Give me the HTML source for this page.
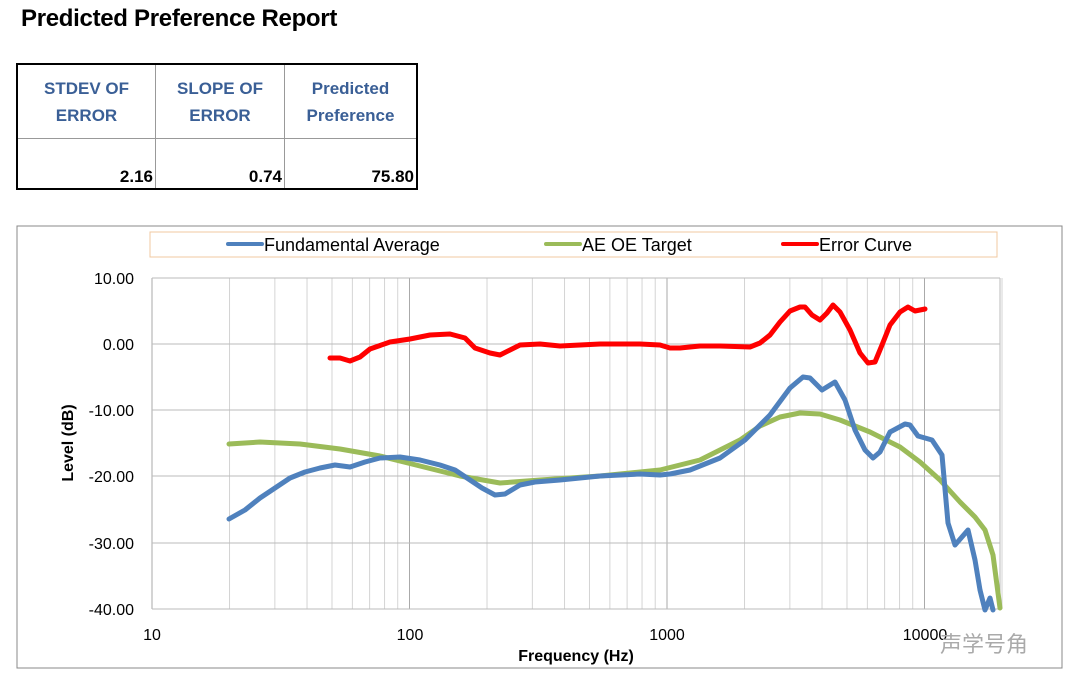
<!DOCTYPE html>
<html><head><meta charset="utf-8"><style>
body{margin:0;background:#fff;width:1080px;height:691px;overflow:hidden;position:relative;font-family:"Liberation Sans","Noto Sans CJK SC",sans-serif}
.t{position:absolute;left:21px;top:5px;font-size:24px;font-weight:bold;color:#000;letter-spacing:-0.3px}
table{position:absolute;left:16px;top:63px;border-collapse:collapse;border:2px solid #000}
td{border:1px solid #999;font-weight:bold;font-size:17px}
.h td{height:71px;color:#3a5f96;text-align:center;line-height:27px}
.v td{height:48px;text-align:right;vertical-align:bottom;padding:0 2px 1px 0;color:#000}
</style></head><body>
<div class="t">Predicted Preference Report</div>
<table>
<tr class="h"><td style="width:135px">STDEV OF<br>ERROR</td><td style="width:126px">SLOPE OF<br>ERROR</td><td style="width:129px">Predicted<br>Preference</td></tr>
<tr class="v"><td>2.16</td><td>0.74</td><td>75.80</td></tr>
</table>
<svg width="1080" height="691" style="position:absolute;left:0;top:0" font-family="Liberation Sans, sans-serif">
<rect x="17" y="226" width="1045" height="442" fill="none" stroke="#888" stroke-width="1"/>
<rect x="150" y="232" width="847" height="25" fill="none" stroke="#f0c8a0" stroke-width="1"/>
<g stroke-width="4" stroke-linecap="round">
<line x1="228" y1="244" x2="262" y2="244" stroke="#4f81bd"/>
<line x1="546" y1="244" x2="580" y2="244" stroke="#9bbb59"/>
<line x1="783" y1="244" x2="817" y2="244" stroke="#f00"/>
</g>
<g font-size="18" fill="#000">
<text x="264" y="251">Fundamental Average</text>
<text x="582" y="251">AE OE Target</text>
<text x="819" y="251">Error Curve</text>
</g>
<g stroke="#d0d0d0" stroke-width="1" id="grid"></g>
<g stroke="#bbb" stroke-width="1">
<line x1="152" y1="278" x2="1000" y2="278"/><line x1="152" y1="344" x2="1000" y2="344"/>
<line x1="152" y1="410" x2="1000" y2="410"/><line x1="152" y1="476" x2="1000" y2="476"/>
<line x1="152" y1="543" x2="1000" y2="543"/><line x1="152" y1="609" x2="1000" y2="609"/>
<line x1="1000" y1="278" x2="1000" y2="609"/>
</g>
<g font-size="16" fill="#000" text-anchor="end">
<text x="134" y="284">10.00</text><text x="134" y="350">0.00</text><text x="134" y="416">-10.00</text>
<text x="134" y="482">-20.00</text><text x="134" y="549">-30.00</text><text x="134" y="615">-40.00</text>
</g>
<g font-size="16" fill="#000" text-anchor="middle">
<text x="152" y="640">10</text><text x="410" y="640">100</text><text x="667" y="640">1000</text><text x="925" y="640">10000</text>
</g>
<text x="576" y="661" font-size="16" font-weight="bold" text-anchor="middle">Frequency (Hz)</text>
<text transform="translate(73,443) rotate(-90)" font-size="16" font-weight="bold" text-anchor="middle">Level (dB)</text>
<text x="940" y="652" font-size="22" fill="#aaa" font-family="Noto Sans CJK SC, sans-serif">声学号角</text>
<g fill="none" stroke-width="5" stroke-linejoin="round" stroke-linecap="round">
<polyline stroke="#9bbb59" points="229,444 260,442 300,444 340,449 380,456 420,466 460,476 500,483 540,480 600,476 660,470 700,460 740,440 760,426 780,417 800,413 820,414 840,420 870,432 900,447 920,462 940,480 960,502 975,517 985,530 993,555 1000,608"/>
<polyline stroke="#4f81bd" points="229,519 245,510 260,498 275,488 290,478 305,472 320,468 335,465 350,467 365,462 380,458 400,457 420,460 440,465 455,470 470,480 482,488 495,495 505,494 520,485 535,482 560,480 600,476 640,474 660,475 670,474 690,470 720,458 745,440 770,415 790,388 803,377 810,378 822,390 835,382 845,400 855,430 865,450 873,458 880,452 890,432 905,424 910,425 918,436 925,438 932,440 942,455 948,523 955,545 968,530 975,560 980,590 985,610 990,598 993,610"/>
<polyline stroke="#f00" points="330,358 340,358 350,361 360,357 370,349 390,342 410,339 430,335 450,334 465,338 475,348 490,353 500,355 510,350 520,345 540,344 560,346 600,344 640,344 660,345 670,348 680,348 700,346 720,346 750,347 760,343 770,335 780,322 790,311 800,307 805,307 812,315 820,320 827,313 833,305 840,312 850,330 860,353 868,363 875,362 882,345 890,325 900,312 908,307 915,311 925,309"/>
</g>
</svg>
<script>
var g=document.getElementById('grid'),s='';
for(var d=0;d<4;d++)for(var k=1;k<10;k++){var f=Math.pow(10,d+1)*k;if(f>20000)break;var x=152+257.5*Math.log10(f/10);
s+='<line x1="'+x+'" y1="278" x2="'+x+'" y2="609" stroke="'+(k==1?'#aaa':'#d4d4d4')+'"/>';}
g.innerHTML=s;
</script>
</body></html>
